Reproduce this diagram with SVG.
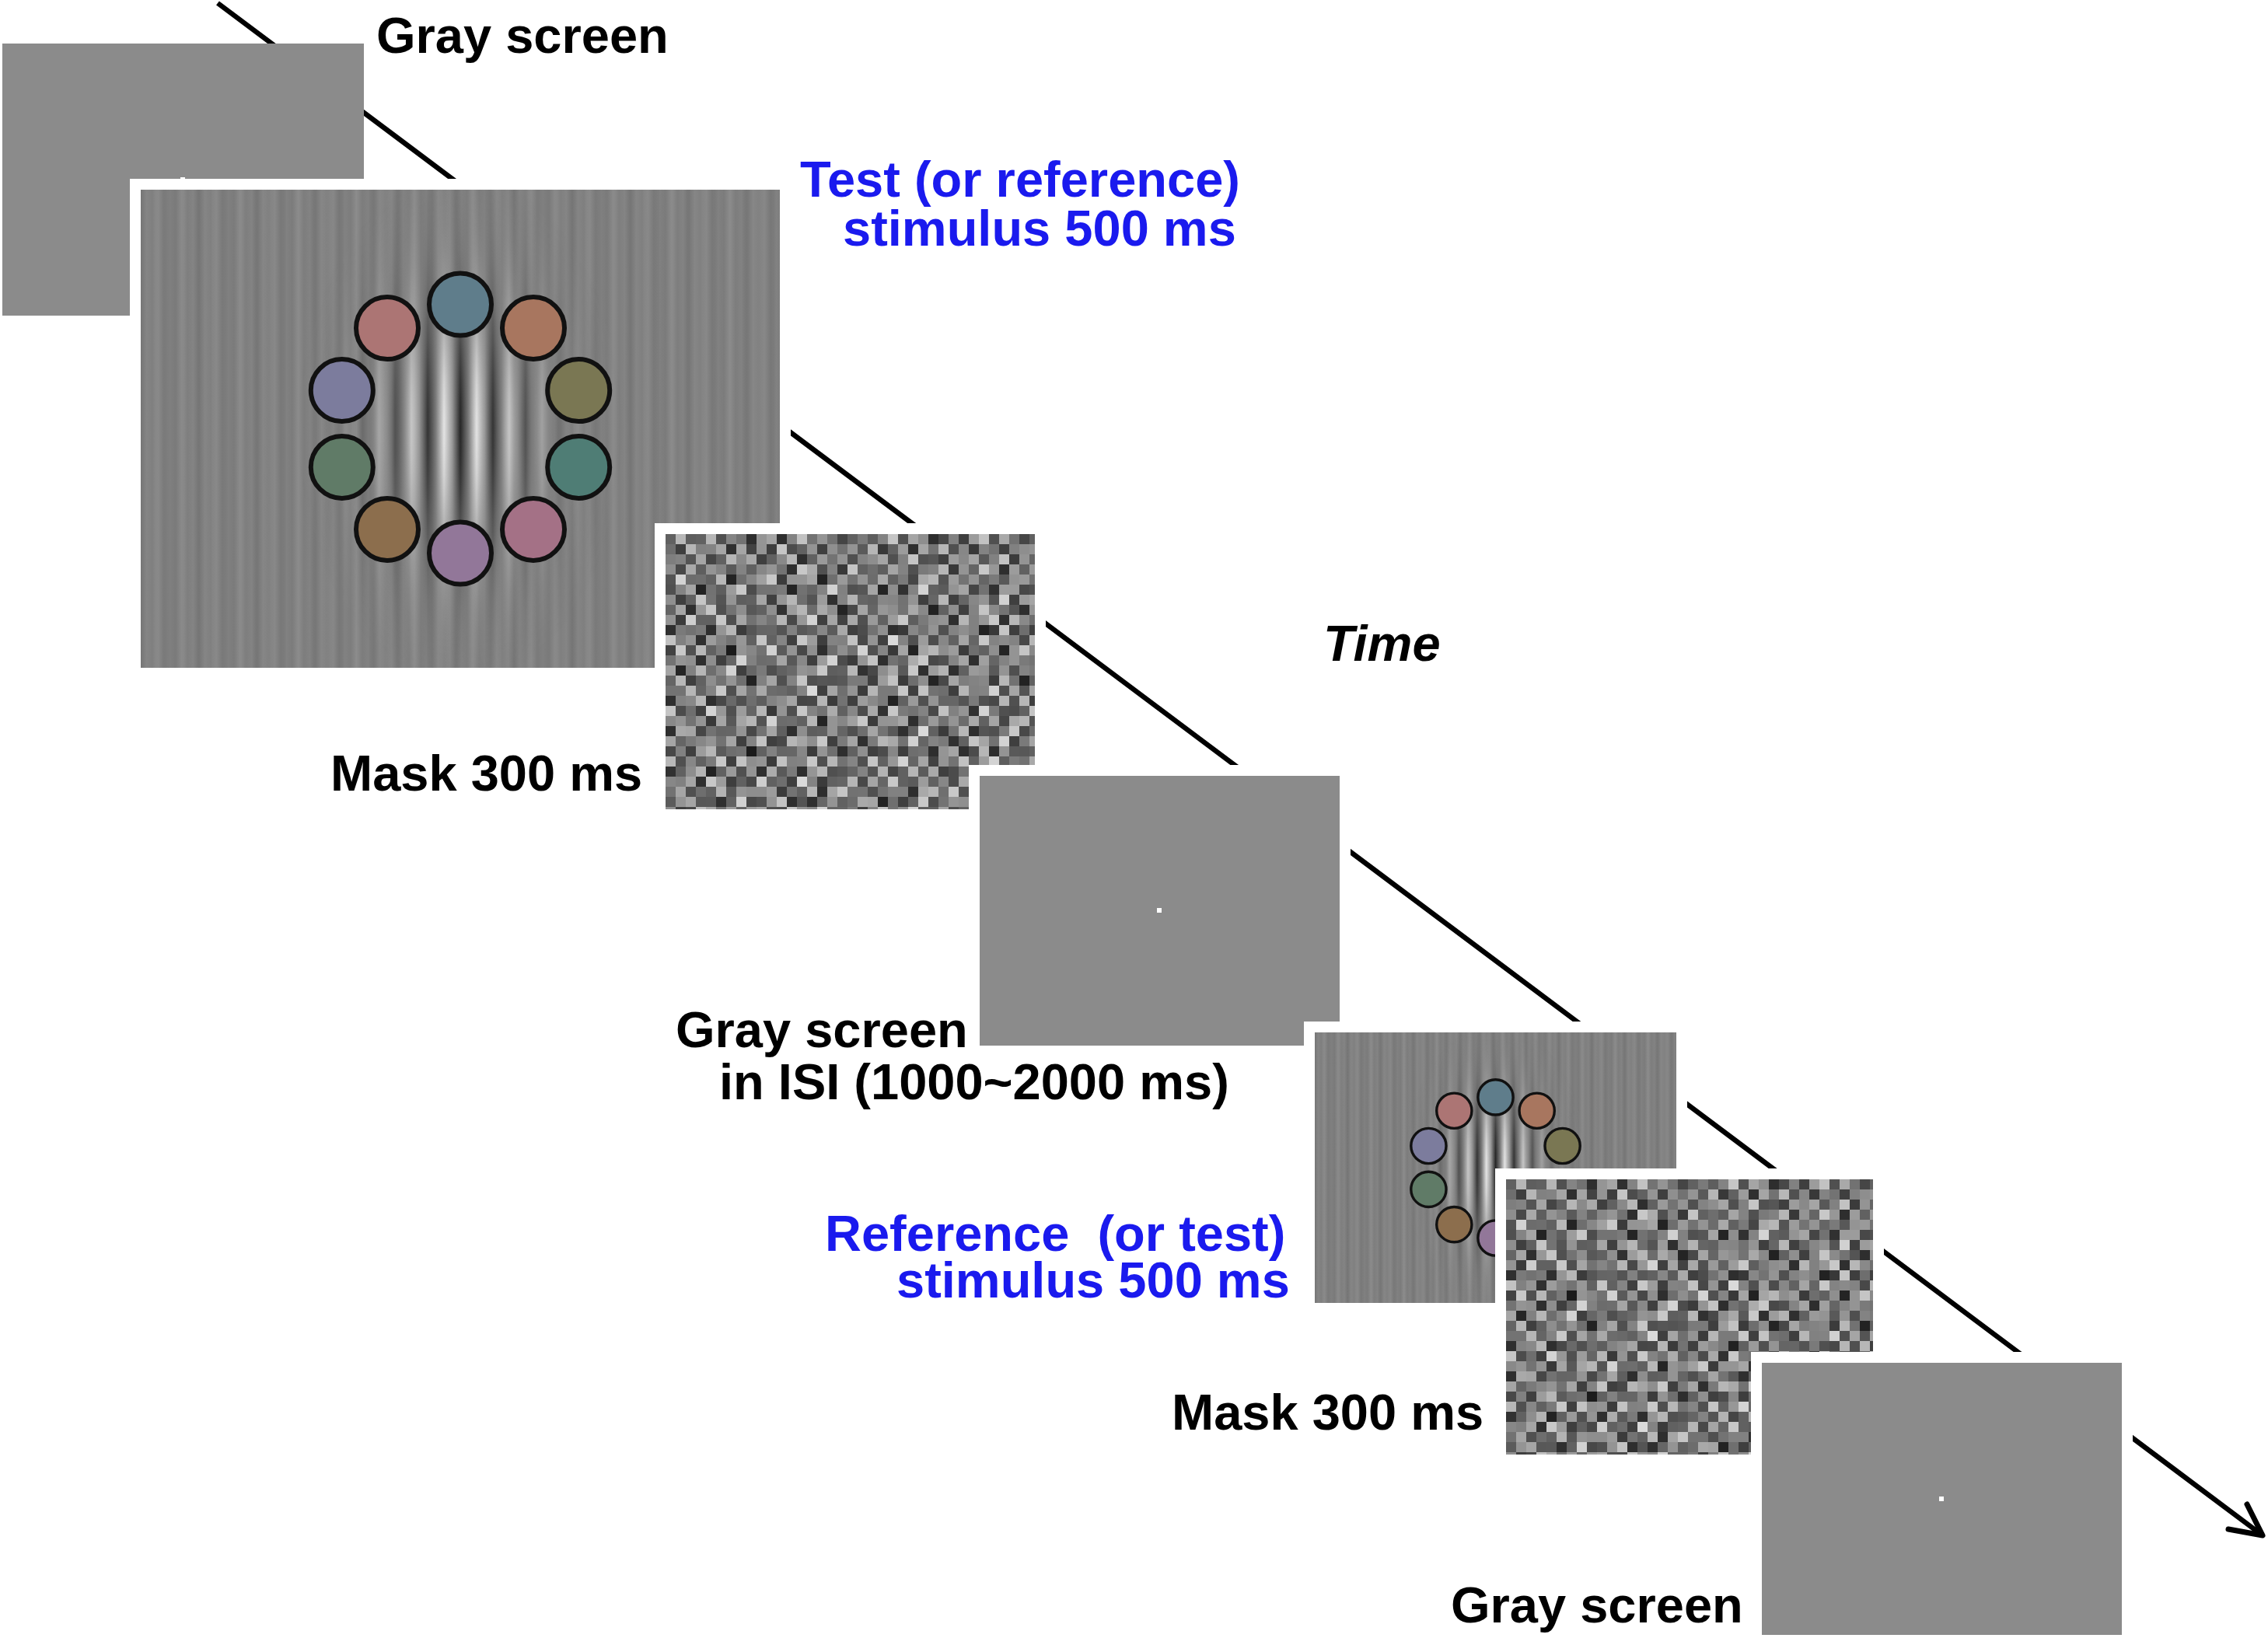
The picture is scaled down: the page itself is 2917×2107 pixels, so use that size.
<svg xmlns="http://www.w3.org/2000/svg" width="2917" height="2107" viewBox="0 0 2917 2107">
<style>
.t{font-family:"Liberation Sans",Arial,sans-serif;font-weight:bold;font-size:65px;fill:#000}
.blue{fill:#1a1aee}
.it{font-style:italic}
.gray{fill:#8b8b8b}
.frame{fill:#fff}
.dot{fill:#fff}
.ring circle{stroke:#111;stroke-width:6}
.axis{stroke:#000;stroke-width:6.5;fill:none}
</style>
<defs>
  <marker id="openArrow" markerUnits="userSpaceOnUse" markerWidth="60" markerHeight="60" viewBox="-50 -30 60 60" refX="0" refY="0" orient="auto">
    <path d="M-40,-20 L0,0 L-40,20" fill="none" stroke="#000" stroke-width="7" stroke-linecap="round" stroke-linejoin="round"/>
  </marker>
  <linearGradient id="grat1" gradientUnits="userSpaceOnUse" x1="0" y1="0" x2="15" y2="0" spreadMethod="repeat">
    <stop offset="0" stop-color="#7b7b7b"/>
    <stop offset="0.5" stop-color="#868686"/>
    <stop offset="1" stop-color="#7b7b7b"/>
  </linearGradient>
  <linearGradient id="grat2" gradientUnits="userSpaceOnUse" x1="0" y1="0" x2="37" y2="0" spreadMethod="repeat">
    <stop offset="0" stop-color="#000" stop-opacity="0.05"/>
    <stop offset="0.5" stop-color="#fff" stop-opacity="0.05"/>
    <stop offset="1" stop-color="#000" stop-opacity="0.05"/>
  </linearGradient>
  <linearGradient id="gaborStripes" gradientUnits="userSpaceOnUse" x1="390" y1="0" x2="432" y2="0" spreadMethod="repeat">
    <stop offset="0" stop-color="#e8e8e8"/>
    <stop offset="0.25" stop-color="#9a9a9a"/>
    <stop offset="0.5" stop-color="#262626"/>
    <stop offset="0.75" stop-color="#7a7a7a"/>
    <stop offset="1" stop-color="#e8e8e8"/>
  </linearGradient>
  <radialGradient id="env">
    <stop offset="0" stop-color="#fff" stop-opacity="1"/>
    <stop offset="0.1" stop-color="#fff" stop-opacity="0.956"/>
    <stop offset="0.2" stop-color="#fff" stop-opacity="0.835"/>
    <stop offset="0.3" stop-color="#fff" stop-opacity="0.667"/>
    <stop offset="0.4" stop-color="#fff" stop-opacity="0.487"/>
    <stop offset="0.5" stop-color="#fff" stop-opacity="0.325"/>
    <stop offset="0.6" stop-color="#fff" stop-opacity="0.198"/>
    <stop offset="0.7" stop-color="#fff" stop-opacity="0.11"/>
    <stop offset="0.8" stop-color="#fff" stop-opacity="0.056"/>
    <stop offset="1" stop-color="#fff" stop-opacity="0"/>
  </radialGradient>
  <mask id="gaborMask" maskUnits="userSpaceOnUse" x="0" y="0" width="822" height="615">
    <rect x="201" y="-22" width="420" height="660" fill="url(#env)"/>
  </mask>
  <pattern id="noiseA" patternUnits="userSpaceOnUse" x="0" y="0" width="117" height="91">
    <rect width="117" height="91" fill="#777"/>
    <path fill="#2e2e2e" d="M104 0h13v13h-13z M52 26h13v13h-13z M78 52h13v13h-13z M39 65h13v13h-13z"/>
    <path fill="#3f3f3f" d="M26 0h13v13h-13z M78 13h13v13h-13z M0 26h13v13h-13z M39 39h13v13h-13z M65 65h13v13h-13z M13 78h13v13h-13z M91 78h13v13h-13z"/>
    <path fill="#505050" d="M65 0h13v13h-13z M13 13h13v13h-13z M91 26h13v13h-13z M78 39h13v13h-13z M26 52h13v13h-13z M0 65h13v13h-13z"/>
    <path fill="#616161" d="M0 0h13v13h-13z M39 13h13v13h-13z M65 26h13v13h-13z M13 39h13v13h-13z M104 39h13v13h-13z M52 52h13v13h-13z M104 65h13v13h-13z M26 78h13v13h-13z"/>
    <path fill="#727272" d="M91 0h13v13h-13z M104 13h13v13h-13z M26 26h13v13h-13z M0 52h13v13h-13z M52 65h13v13h-13z M65 78h13v13h-13z"/>
    <path fill="#838383" d="M39 0h13v13h-13z M52 13h13v13h-13z M13 26h13v13h-13z M65 39h13v13h-13z M91 39h13v13h-13z M78 65h13v13h-13z M104 78h13v13h-13z"/>
    <path fill="#949494" d="M78 0h13v13h-13z M0 13h13v13h-13z M104 26h13v13h-13z M26 39h13v13h-13z M39 52h13v13h-13z M91 52h13v13h-13z M13 65h13v13h-13z M52 78h13v13h-13z"/>
    <path fill="#a5a5a5" d="M13 0h13v13h-13z M91 13h13v13h-13z M39 26h13v13h-13z M65 52h13v13h-13z M26 65h13v13h-13z M0 78h13v13h-13z"/>
    <path fill="#b6b6b6" d="M52 0h13v13h-13z M26 13h13v13h-13z M78 26h13v13h-13z M0 39h13v13h-13z M104 52h13v13h-13z M39 78h13v13h-13z"/>
    <path fill="#c8c8c8" d="M65 13h13v13h-13z M52 39h13v13h-13z M13 52h13v13h-13z M91 65h13v13h-13z M78 78h13v13h-13z"/>
  </pattern>
  <pattern id="noiseB" patternUnits="userSpaceOnUse" x="0" y="0" width="104" height="65">
    <path fill="#fff" fill-opacity="0.2" d="M13 0h13v13h-13z M78 0h13v13h-13z M39 13h13v13h-13z M0 26h13v13h-13z M52 26h13v13h-13z M91 26h13v13h-13z M26 39h13v13h-13z M78 39h13v13h-13z M13 52h13v13h-13z M65 52h13v13h-13z"/>
    <path fill="#000" fill-opacity="0.26" d="M39 0h13v13h-13z M0 13h13v13h-13z M65 13h13v13h-13z M78 13h13v13h-13z M26 26h13v13h-13z M13 39h13v13h-13z M52 39h13v13h-13z M0 52h13v13h-13z M39 52h13v13h-13z M91 52h13v13h-13z"/>
  </pattern>
  <pattern id="noiseC" patternUnits="userSpaceOnUse" x="0" y="0" width="143" height="52">
    <path fill="#fff" fill-opacity="0.16" d="M26 0h13v13h-13z M117 0h13v13h-13z M65 13h13v13h-13z M0 26h13v13h-13z M91 26h13v13h-13z M39 39h13v13h-13z M130 39h13v13h-13z"/>
    <path fill="#000" fill-opacity="0.22" d="M78 0h13v13h-13z M13 13h13v13h-13z M130 13h13v13h-13z M52 26h13v13h-13z M104 13h13v13h-13z M78 39h13v13h-13z M0 39h13v13h-13z"/>
  </pattern>
  <g id="stim">
    <rect width="822" height="615" fill="#7f7f7f"/>
    <rect width="822" height="615" fill="url(#grat1)"/>
    <rect width="822" height="615" fill="url(#grat2)"/>
    <rect width="822" height="615" fill="url(#gaborStripes)" mask="url(#gaborMask)"/>
    <g class="ring">
      <circle cx="411" cy="147.5" r="40" fill="#5f7d8b"/>
      <circle cx="505" cy="178.1" r="40" fill="#a8765f"/>
      <circle cx="563.2" cy="258.1" r="40" fill="#7a7753"/>
      <circle cx="563.2" cy="356.9" r="40" fill="#4f7d75"/>
      <circle cx="505" cy="436.9" r="40" fill="#a47186"/>
      <circle cx="411" cy="467.5" r="40" fill="#927799"/>
      <circle cx="317" cy="436.9" r="40" fill="#8c6e4d"/>
      <circle cx="258.8" cy="356.9" r="40" fill="#607b67"/>
      <circle cx="258.8" cy="258.1" r="40" fill="#7c7c9d"/>
      <circle cx="317" cy="178.1" r="40" fill="#ac7574"/>
    </g>
  </g>
  <g id="noise">
    <rect width="475" height="354" fill="url(#noiseA)"/>
    <rect width="475" height="354" fill="url(#noiseB)"/>
    <rect width="475" height="354" fill="url(#noiseC)"/>
  </g>
</defs>

<rect width="2917" height="2107" fill="#fff"/>

<g id="connectors">
  <line id="time-axis" class="axis" x1="280" y1="4" x2="2910" y2="1975" marker-end="url(#openArrow)"/>
</g>

<g id="gray-screen-1">
  <rect class="gray" x="3" y="56" width="465" height="350"/>
  <rect class="dot" x="232" y="228" width="6" height="6"/>
  <text class="t" x="484" y="68">Gray screen</text>
</g>

<g id="test-stimulus">
  <rect class="frame" x="167" y="230" width="850" height="643"/>
  <use href="#stim" transform="translate(181,244)"/>
  <text class="t blue"><tspan x="1029" y="253">Test (or reference)</tspan><tspan x="1084" y="316">stimulus 500 ms</tspan></text>
</g>

<g id="mask-1">
  <rect class="frame" x="842" y="673" width="503" height="382"/>
  <svg x="856" y="687" width="475" height="354" viewBox="0 0 475 354"><use href="#noise"/></svg>
  <text class="t" x="425" y="1017">Mask 300 ms</text>
</g>

<g id="time-label">
  <text class="t it" x="1702" y="850">Time</text>
</g>

<g id="gray-screen-isi">
  <rect class="frame" x="1246" y="984" width="491" height="375"/>
  <rect class="gray" x="1260" y="998" width="463" height="347"/>
  <rect class="dot" x="1488" y="1168" width="6" height="6"/>
  <text class="t"><tspan x="869" y="1347">Gray screen</tspan><tspan x="925" y="1414">in ISI (1000~2000 ms)</tspan></text>
</g>

<g id="reference-stimulus">
  <rect class="frame" x="1677" y="1314" width="493" height="376"/>
  <use href="#stim" transform="translate(1691,1328) scale(0.5657)"/>
  <text class="t blue" xml:space="preserve" style="white-space:pre"><tspan x="1061" y="1609">Reference  (or test)</tspan><tspan x="1153" y="1669">stimulus 500 ms</tspan></text>
</g>

<g id="mask-2">
  <rect class="frame" x="1923" y="1503" width="500" height="382"/>
  <svg x="1937" y="1517" width="472" height="354" viewBox="40 30 472 354"><use href="#noise" transform="translate(40,30)"/></svg>
  <text class="t" x="1507" y="1839">Mask 300 ms</text>
</g>

<g id="gray-screen-2">
  <rect class="frame" x="2252" y="1739" width="491" height="378"/>
  <rect class="gray" x="2266" y="1753" width="463" height="350"/>
  <rect class="dot" x="2494" y="1925" width="6" height="6"/>
  <text class="t" x="1866" y="2087">Gray screen</text>
</g>
</svg>
